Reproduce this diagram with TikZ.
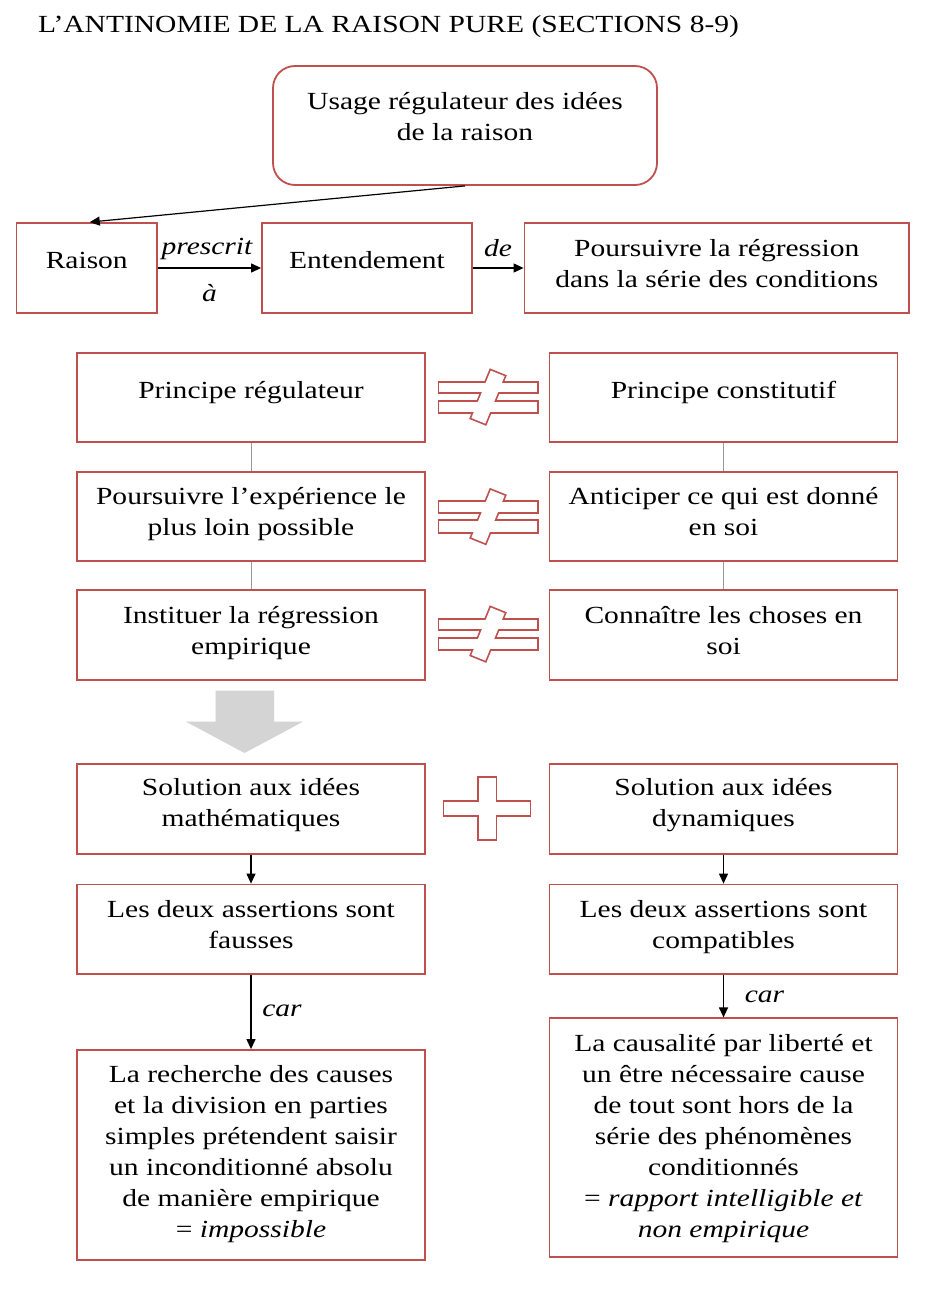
\documentclass[tikz,border=0pt]{standalone}
\usepackage{fontspec}
\setmainfont{Liberation Serif}[FakeStretch=1.2]
\usetikzlibrary{arrows.meta}
\definecolor{boxred}{RGB}{192,80,77}
\definecolor{blockgray}{RGB}{212,212,212}
\begin{document}
\begin{tikzpicture}[x=1pt,y=-1pt,
  box/.style={draw=boxred, line width=1.8pt, fill=white, inner sep=0pt},
  txt/.style={inner sep=0pt, align=center, anchor=north, font=\fontsize{24.6}{31}\selectfont},
  lab/.style={inner sep=0pt, anchor=north, font=\fontsize{24.6}{31}\selectfont\itshape},
  arr/.style={draw=black, line width=1.2pt, -{Triangle[length=10pt,width=9pt]}},
  gline/.style={draw=black!40, line width=1pt},
  symline/.style={draw=boxred, line width=3.4pt, line join=miter},
  neqsym/.pic={
    \draw[symline] (-48.8,-14.9) rectangle (49.4,-5.1);
    \draw[symline] (-48.8,4.1) rectangle (49.4,14.9);
    \draw[symline] (2.69,-26.94) -- (16.59,-21.3) -- (-2.69,26.14) -- (-16.59,20.5) -- cycle;
    \fill[white] (-48.8,-14.9) rectangle (49.4,-5.1);
    \fill[white] (-48.8,4.1) rectangle (49.4,14.9);
    \fill[white] (2.69,-26.94) -- (16.59,-21.3) -- (-2.69,26.14) -- (-16.59,20.5) -- cycle;
  },
  plussym/.pic={
    \draw[symline] (-42.6,-6.8) rectangle (42.6,6.7);
    \draw[symline] (-8.5,-30.5) rectangle (8.5,30.7);
    \fill[white] (-42.6,-6.8) rectangle (42.6,6.7);
    \fill[white] (-8.5,-30.5) rectangle (8.5,30.7);
  }
]
\useasboundingbox[fill=white] (0,0) rectangle (936,1297);

% title
\node[txt, anchor=north west] (title) at (38,14) {\rule{0pt}{18pt}L’ANTINOMIE DE LA RAISON PURE (SECTIONS 8-9)};

% top row
\node[box, rounded corners=22pt, minimum width=384pt, minimum height=119pt] (busage) at (465,125.5) {};
\node[txt] (tusage) at (465,91) {\rule{0pt}{18pt}Usage régulateur des idées\\de la raison};

\node[box, minimum width=140.5pt, minimum height=90pt] (braison) at (86.75,268) {};
\node[txt] (traison) at (86.75,250) {\rule{0pt}{18pt}Raison};

\node[box, minimum width=210pt, minimum height=90pt] (bentend) at (367,268) {};
\node[txt] (tentend) at (367,250) {\rule{0pt}{18pt}Entendement};

\node[box, minimum width=384.5pt, minimum height=90pt] (bpours) at (716.75,268) {};
\node[txt] (tpours) at (716.75,238) {\rule{0pt}{18pt}Poursuivre la régression\\dans la série des conditions};

\draw[arr] (busage.south) -- ([xshift=3pt]braison.north);
\draw[arr] (braison.east) -- (bentend.west);
\draw[arr] (bentend.east) -- (bpours.west);
\node[lab] (lprescrit) at (207,236) {\rule{0pt}{18pt}prescrit};
\node[lab] (la) at (209.5,283) {\rule{0pt}{18pt}à};
\node[lab] (lde) at (498,238.5) {\rule{0pt}{18pt}de};

% rows of principles
\node[box, minimum width=348pt, minimum height=89pt] (bpr) at (251,397.8) {};
\node[txt] (tpr) at (251,380) {\rule{0pt}{18pt}Principe régulateur};
\node[box, minimum width=348pt, minimum height=89pt] (bpc) at (723.5,397.8) {};
\node[txt] (tpc) at (723.5,380) {\rule{0pt}{18pt}Principe constitutif};

\node[box, minimum width=348pt, minimum height=89.3pt] (bpe) at (251,516.35) {};
\node[txt] (tpe) at (251,486) {\rule{0pt}{18pt}Poursuivre l’expérience le\\plus loin possible};
\node[box, minimum width=348pt, minimum height=89.3pt] (ban) at (723.5,516.35) {};
\node[txt] (tan) at (723.5,486) {\rule{0pt}{18pt}Anticiper ce qui est donné\\en soi};

\node[box, minimum width=348pt, minimum height=90pt] (bin) at (251,635) {};
\node[txt] (tin) at (251,605) {\rule{0pt}{18pt}Instituer la régression\\empirique};
\node[box, minimum width=348pt, minimum height=90pt] (bco) at (723.5,635) {};
\node[txt] (tco) at (723.5,605) {\rule{0pt}{18pt}Connaître les choses en\\soi};

\draw[gline] (bpr.south) -- (bpe.north);
\draw[gline] (bpe.south) -- (bin.north);
\draw[gline] (bpc.south) -- (ban.north);
\draw[gline] (ban.south) -- (bco.north);

\pic at (488,397.5) {neqsym};
\pic at (488,517) {neqsym};
\pic at (488,634.5) {neqsym};

% gray block arrow
\fill[blockgray] (215.7,690.7) -- (274,690.7) -- (274,721.7) -- (303,721.7) -- (244.5,753)
  -- (186,721.7) -- (215.7,721.7) -- cycle;

% solutions
\node[box, minimum width=348pt, minimum height=89.7pt] (bsm) at (251,809.15) {};
\node[txt] (tsm) at (251,777.5) {\rule{0pt}{18pt}Solution aux idées\\mathématiques};
\node[box, minimum width=348pt, minimum height=89.7pt] (bsd) at (723.5,809.15) {};
\node[txt] (tsd) at (723.5,777.5) {\rule{0pt}{18pt}Solution aux idées\\dynamiques};
\pic at (487,808.4) {plussym};

\node[box, minimum width=348pt, minimum height=89.8pt] (blf) at (251,929.4) {};
\node[txt] (tlf) at (251,899.3) {\rule{0pt}{18pt}Les deux assertions sont\\fausses};
\node[box, minimum width=348pt, minimum height=89.8pt] (blc) at (723.5,929.4) {};
\node[txt] (tlc) at (723.5,899.3) {\rule{0pt}{18pt}Les deux assertions sont\\compatibles};

\node[box, minimum width=348pt, minimum height=210pt] (blr) at (251,1155) {};
\node[txt] (tlr) at (251,1064.5) {\rule{0pt}{18pt}La recherche des causes\\et la division en parties\\simples prétendent saisir\\un inconditionné absolu\\de manière empirique\\= \textit{impossible}};
\node[box, minimum width=348pt, minimum height=239pt] (blca) at (723.5,1137.8) {};
\node[txt] (tlca) at (723.5,1033) {\rule{0pt}{18pt}La causalité par liberté et\\un être nécessaire cause\\de tout sont hors de la\\série des phénomènes\\conditionnés\\= \textit{rapport intelligible et}\\\textit{non empirique}};

\draw[arr] (bsm.south) -- (blf.north);
\draw[arr] (bsd.south) -- (blc.north);
\draw[arr] (blf.south) -- (blr.north);
\draw[arr] (blc.south) -- (blca.north);
\node[lab] (lcar1) at (282,998) {\rule{0pt}{18pt}car};
\node[lab] (lcar2) at (764.5,984.7) {\rule{0pt}{18pt}car};
\end{tikzpicture}
\end{document}
